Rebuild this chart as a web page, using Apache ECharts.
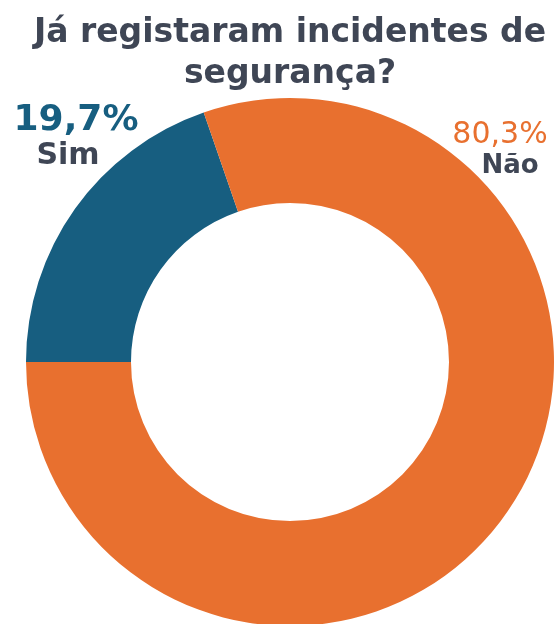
<!DOCTYPE html>
<html>
<head>
<meta charset="utf-8">
<script src="https://cdn.jsdelivr.net/npm/echarts@6/dist/echarts.min.js"></script>
<style>
html,body{margin:0;padding:0;background:#fff;}
#chart{width:554px;height:624px;}
</style>
</head>
<body>
<div id="chart"></div>
<script>
const titleText = 'Já registaram incidentes de\nsegurança?';
const categories = ['Sim', 'Não'];
const values = [19.7, 80.3];
const colors = ['#175E80', '#E8702F'];

const fmt = v => v.toFixed(1).replace('.', ',') + '%';
const FONT = '"DejaVu Sans", sans-serif';
const GRAY = '#3F4655';

const chart = echarts.init(document.getElementById('chart'), null, {renderer: 'canvas'});
chart.setOption({
  animation: false,
  backgroundColor: '#ffffff',
  title: {
    text: titleText,
    left: 285,
    textAlign: 'center',
    top: 8,
    textStyle: {fontFamily: FONT, fontWeight: 'bold', fontSize: 33, lineHeight: 41, color: GRAY}
  },
  series: [{
    type: 'pie',
    center: [290, 362],
    radius: [159, 264],
    startAngle: 180,
    clockwise: true,
    label: {show: false},
    labelLine: {show: false},
    emphasis: {disabled: true},
    data: categories.map((c, i) => ({name: c, value: values[i], itemStyle: {color: colors[i]}}))
  }],
  graphic: [
    {type: 'text', x: 76, y: 121, style: {text: fmt(values[0]), font: 'bold 36px ' + FONT, fill: colors[0], textAlign: 'center', textVerticalAlign: 'middle'}},
    {type: 'text', x: 68, y: 156, style: {text: categories[0], font: 'bold 30px ' + FONT, fill: GRAY, textAlign: 'center', textVerticalAlign: 'middle'}},
    {type: 'text', x: 500, y: 135, style: {text: fmt(values[1]), font: '30px ' + FONT, fill: colors[1], textAlign: 'center', textVerticalAlign: 'middle'}},
    {type: 'text', x: 510, y: 166, style: {text: categories[1], font: 'bold 26px ' + FONT, fill: GRAY, textAlign: 'center', textVerticalAlign: 'middle'}}
  ]
});
</script>
</body>
</html>
